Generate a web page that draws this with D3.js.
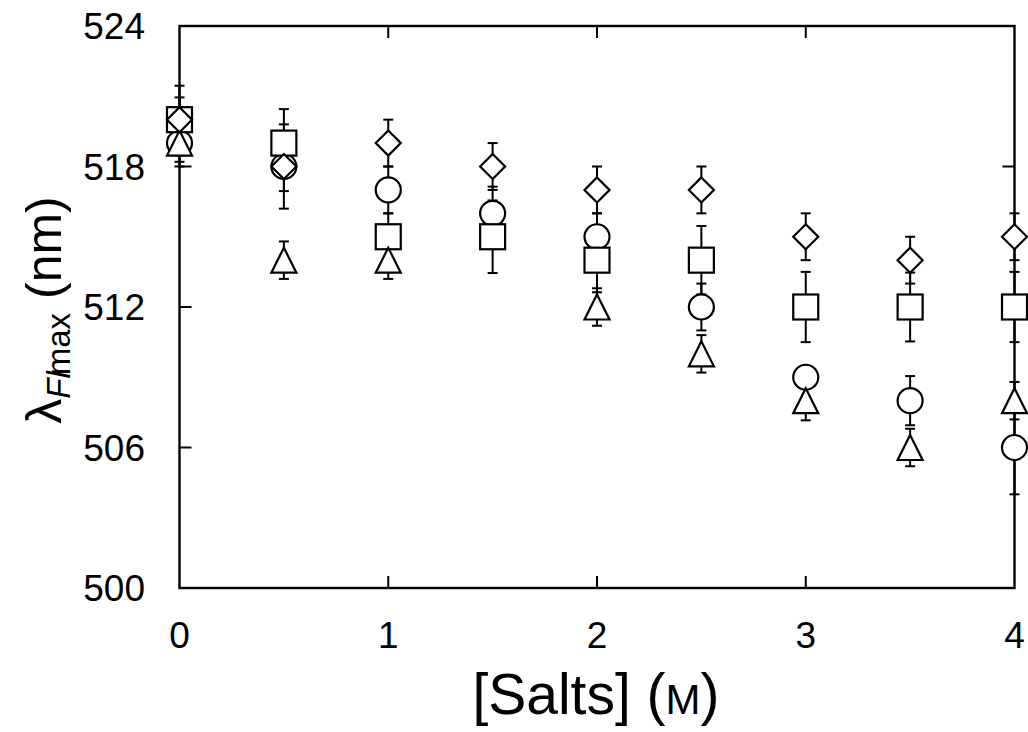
<!DOCTYPE html>
<html lang="en">
<head>
<meta charset="UTF-8">
<title>Salts</title>
<style>
  body { margin: 0; background: #fff; }
  svg { display: block; }
  text { font-family: "Liberation Sans", Arial, sans-serif; fill: #000; }
</style>
</head>
<body>
<svg id="chart" width="1028" height="732"></svg>
<script src="https://d3js.org/d3.v7.min.js"></script>
<script>
// salt concentration (M)
const salts = [0, 0.5, 1, 1.5, 2, 2.5, 3, 3.5, 4];

// emission maxima (nm) and error bars, one pair per symbol
const circleVals   = [519, 518, 517, 516, 515, 512, 509, 508, 506];
const circleErr    = [1, 1.05, 1, 1.14, 1, 1, 0.4, 1.05, 2];
const squareVals   = [520, 519, 515, 515, 514, 514, 512, 512, 512];
const squareErr    = [1.45, 1.45, 1, 1.55, 1.37, 1.46, 1.5, 1.47, 1.5];
const triangleVals = [519, 514, 514, null, 512, 510, 508, 506, 508];
const triangleErr  = [0.8, 0.8, 0.8, null, 0.8, 0.8, 0.84, 0.8, 0.8];
const diamondVals  = [520, 518, 519, 518, 517, 517, 515, 514, 515];
const diamondErr   = [0.95, 1.8, 1, 1, 1, 1, 1, 1, 1];

const xTicks = [0, 1, 2, 3, 4];
const yTicks = [500, 506, 512, 518, 524];

const svg = d3.select("#chart");
const pLeft = 179.5, pRight = 1014.5, pTop = 26, pBottom = 588;

const x = d3.scaleLinear().domain([0, 4]).range([pLeft, pRight]);
const y = d3.scaleLinear().domain([500, 524]).range([pBottom, pTop]);

// frame
svg.append("rect")
  .attr("x", pLeft).attr("y", pTop)
  .attr("width", pRight - pLeft).attr("height", pBottom - pTop)
  .attr("fill", "none").attr("stroke", "#000").attr("stroke-width", 2.4);

// inward ticks on all four sides
const tickLen = 12;
const inner = svg.append("g").attr("stroke", "#000").attr("stroke-width", 2);
xTicks.slice(1, -1).forEach(function (t) {
  inner.append("line").attr("x1", x(t)).attr("x2", x(t)).attr("y1", pBottom).attr("y2", pBottom - tickLen);
  inner.append("line").attr("x1", x(t)).attr("x2", x(t)).attr("y1", pTop).attr("y2", pTop + tickLen);
});
yTicks.slice(1, -1).forEach(function (t) {
  inner.append("line").attr("x1", pLeft).attr("x2", pLeft + tickLen).attr("y1", y(t)).attr("y2", y(t));
  inner.append("line").attr("x1", pRight).attr("x2", pRight - tickLen).attr("y1", y(t)).attr("y2", y(t));
});

// tick labels
svg.append("g").selectAll("text")
  .data(xTicks).enter().append("text")
  .attr("x", function (d) { return x(d); })
  .attr("y", 648)
  .attr("text-anchor", "middle")
  .attr("font-size", 37)
  .text(function (d) { return d; });

svg.append("g").selectAll("text")
  .data(yTicks).enter().append("text")
  .attr("x", 145)
  .attr("y", function (d) { return y(d) + 13; })
  .attr("text-anchor", "end")
  .attr("font-size", 37)
  .text(function (d) { return d; });

// axis titles
const xt = svg.append("text")
  .attr("x", 596).attr("y", 714)
  .attr("text-anchor", "middle")
  .attr("font-size", 57);
xt.append("tspan").text("[Salts] (");
xt.append("tspan").attr("font-size", 42).text("M");
xt.append("tspan").text(")");

const yt = svg.append("text")
  .attr("transform", "translate(61,310) rotate(-90)")
  .attr("text-anchor", "middle")
  .attr("font-size", 50);
yt.append("tspan").text("λ");
yt.append("tspan").attr("font-size", 33).attr("font-style", "italic").attr("dy", 9).text("Fl");
yt.append("tspan").attr("font-size", 33).attr("dx", -4).text("max");
yt.append("tspan").attr("dy", -9).text(" (nm)");

// symbols
const size = 12.5;
const shapes = {
  circle: function (g) { g.append("circle").attr("r", size); },
  square: function (g) { g.append("rect").attr("x", -size).attr("y", -size).attr("width", 2 * size).attr("height", 2 * size); },
  triangle: function (g) { g.append("path").attr("d", "M0," + (-size) + "L" + size + "," + size + "L" + (-size) + "," + size + "Z"); },
  diamond: function (g) { g.append("path").attr("d", "M0," + (-size) + "L" + size + ",0L0," + size + "L" + (-size) + ",0Z"); }
};

const series = [
  { shape: "circle", vals: circleVals, err: circleErr },
  { shape: "square", vals: squareVals, err: squareErr },
  { shape: "triangle", vals: triangleVals, err: triangleErr },
  { shape: "diamond", vals: diamondVals, err: diamondErr }
];

// error bars first, markers on top with white fill
const bars = svg.append("g").attr("stroke", "#000").attr("stroke-width", 2);
series.forEach(function (s) {
  salts.forEach(function (c, i) {
    if (s.vals[i] == null) return;
    const px = x(c), lo = y(s.vals[i] - s.err[i]), hi = y(s.vals[i] + s.err[i]);
    bars.append("line").attr("x1", px).attr("x2", px).attr("y1", lo).attr("y2", hi);
    bars.append("line").attr("x1", px - 5).attr("x2", px + 5).attr("y1", lo).attr("y2", lo);
    bars.append("line").attr("x1", px - 5).attr("x2", px + 5).attr("y1", hi).attr("y2", hi);
  });
});

series.forEach(function (s) {
  salts.forEach(function (c, i) {
    if (s.vals[i] == null) return;
    const g = svg.append("g")
      .attr("transform", "translate(" + x(c) + "," + y(s.vals[i]) + ")")
      .attr("fill", "#fff").attr("stroke", "#000").attr("stroke-width", 2.2);
    shapes[s.shape](g);
  });
});
</script>
</body>
</html>
